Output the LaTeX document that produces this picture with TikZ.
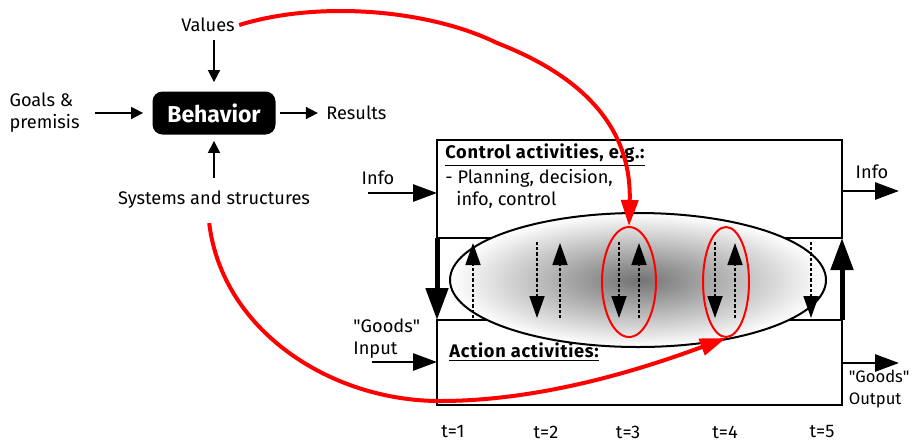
\documentclass[tikz,border=0pt]{standalone}
\usepackage{fontspec}
\setmainfont{Fira Sans}
\usepackage{tikz}
\usetikzlibrary{positioning, shapes.geometric, arrows.meta}
\tikzstyle{txt} = [font=\fontsize{9.1}{11}\selectfont, inner sep=2pt]
\tikzstyle{boldtxt} = [font=\fontsize{9.1}{11}\selectfont\bfseries\addfontfeature{LetterSpace=4}, inner sep=2pt]
\tikzstyle{behav} = [rectangle, rounded corners=5pt, fill=black, text=white, font=\fontsize{11.5}{13}\selectfont\bfseries, minimum width=61.5pt, minimum height=21.5pt]
\tikzstyle{frame} = [rectangle, draw=black, line width=1pt, inner sep=0pt, outer sep=0pt, minimum width=202.5pt]
\tikzstyle{phase} = [ellipse, draw=black, line width=1pt, inner sep=0pt, minimum width=188pt, minimum height=67pt, inner color=black!55, outer color=white]
\tikzstyle{redring} = [ellipse, draw=red, line width=1pt, inner sep=0pt, minimum height=55pt]
\tikzstyle{flow} = [line width=0.8pt, -{Triangle[length=6pt,width=6pt]}]
\tikzstyle{ioflow} = [line width=1.4pt, -{Triangle[length=12pt,width=8.5pt]}]
\tikzstyle{bigflow} = [line width=2.5pt, -{Triangle[length=16pt,width=11pt]}]
\tikzstyle{dasharrow} = [line width=0.9pt, dash pattern=on 1.6pt off 1pt, -{Triangle[length=11pt,width=7.5pt]}]
\tikzstyle{redflow} = [red, line width=2pt, -{Triangle[length=13pt,width=8.5pt]}]

\begin{document}
\begin{tikzpicture}[x=0.5pt, y=-0.5pt]
		\useasboundingbox (0,0) rectangle (914,440);
		
		% Behavior part
		\node (values) [txt] at (208,25) {Values};
		\node (behavior) [behav] at (214,113) {Behavior};
		\node (goals) [txt, align=left, anchor=east] at (84,113) {Goals \&\\premisis};
		\node (results) [txt, right=23pt of behavior] {Results};
		\node (systems) [txt] at (214,200) {Systems and structures};
		
		\draw [flow, shorten <=5.5pt, shorten >=4.5pt] (goals) -- (behavior);
		\draw [flow, shorten <=2pt, shorten >=2pt] (behavior) -- (results);
		\draw [flow, shorten <=2pt, shorten >=4.5pt] (values.south -| behavior.north) -- (behavior.north);
		\draw [flow, shorten <=4.5pt, shorten >=3pt] (systems) -- (behavior);
		
		% Activity boxes
		\node (control) [frame, minimum height=49pt] at (639.5,189) {};
		\node (action) [frame, minimum height=42.5pt] at (639.5,362.5) {};
		\node (phase) [phase] at (638,280) {};
		
		\draw [bigflow] (control.south west) -- (action.north west);
		\draw [bigflow] (action.north east) -- (control.south east);
		
		% Dashed arrows between the activities
		\foreach \x in {473,560,639,735}
			\draw [dasharrow, shorten <=1pt, shorten >=2.5pt] (\x,0 |- action.north) -- (\x,0 |- control.south);
		\foreach \x in {537,619,715,811}
			\draw [dasharrow, shorten <=2pt, shorten >=1pt] (\x,0 |- control.south) -- (\x,0 |- action.north);
		
		\node (ring3) [redring, minimum width=27pt] at (629,282) {};
		\node (ring4) [redring, minimum width=23pt] at (726,282) {};
		
		% Texts in the boxes
		\node (ctrltitle) [boldtxt, anchor=west] at (441,155) {\underline{Control activities, e.g.:}};
		\node (ctrltext) [txt, align=left, anchor=north west] at (441,165) {- Planning, decision,\\\hspace*{5.5pt}info, control};
		\node (actiontitle) [boldtxt, anchor=west] at (445,352) {\underline{Action activities:}};
		
		% In and out
		\node (infoin) [txt] at (378,178) {Info};
		\coordinate (infostart) at (368,193);
		\draw [ioflow] (infostart) -- (infostart -| control.west);
		\node (infoout) [txt] at (872,172) {Info};
		\coordinate (infoend) at (899,191);
		\draw [ioflow] (infoend -| control.east) -- (infoend);
		\node (goodsin) [txt, align=left, anchor=west] at (349,339) {\textquotedbl Goods\textquotedbl\\Input};
		\coordinate (goodsstart) at (372,362);
		\draw [ioflow] (goodsstart) -- (goodsstart -| action.west);
		\node (goodsout) [txt, font=\fontsize{8.3}{11}\selectfont, inner sep=1pt, align=left, anchor=east] at (912,389) {\textquotedbl Goods\textquotedbl\\Output};
		\coordinate (goodsend) at (899,363);
		\draw [ioflow] (goodsend -| action.east) -- (goodsend);
		
		% Time steps
		\foreach \x/\t in {453/1, 546/2, 628/3, 725/4, 822/5}
			\node (t\t) [txt] at (\x,432) {t=\t};
		
		% Red links
		\draw [redflow] (values.east) .. controls (320,0) and (430,10) .. (497,43) .. controls (572,72) and (632,120) .. (ring3.north);
		\draw [redflow, shorten <=5pt] ([xshift=-3pt]systems.south) .. controls (222,330) and (330,401) .. (440,401) .. controls (540,401) and (640,370) .. (ring4.south);
		
	\end{tikzpicture}
\end{document}
